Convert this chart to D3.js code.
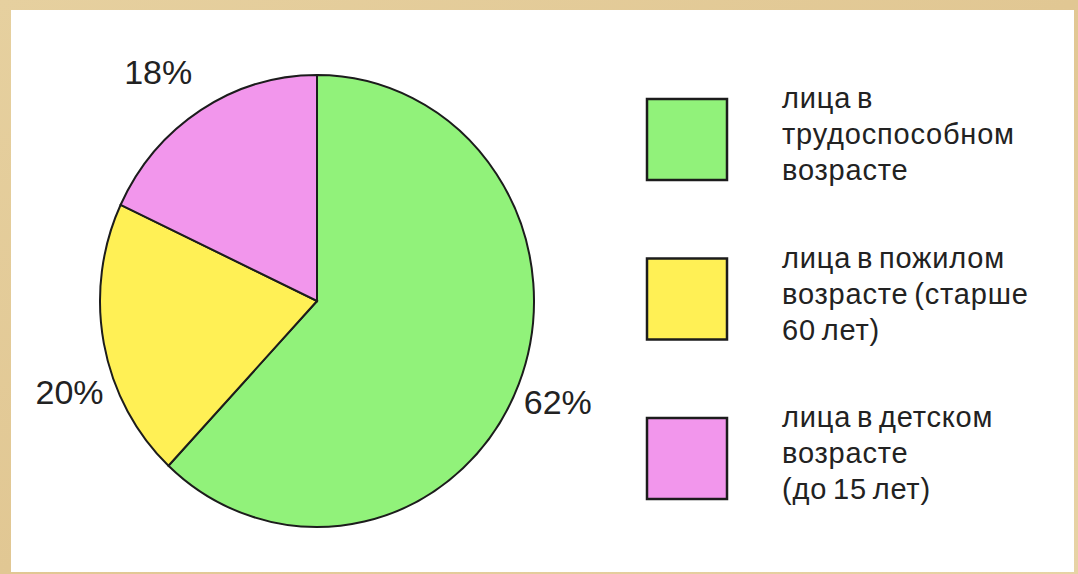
<!DOCTYPE html>
<html>
<head>
<meta charset="utf-8">
<script src="https://cdn.jsdelivr.net/npm/d3@7"></script>
<style>
  html, body { margin: 0; padding: 0; background: #e4cd9a; }
  svg { display: block; }
</style>
</head>
<body>
<svg id="chart" width="1078" height="574"></svg>
<script>
// data
const categories = ['лица в трудоспособном возрасте', 'лица в пожилом возрасте (старше 60 лет)', 'лица в детском возрасте (до 15 лет)'];
const shares = [62, 20, 18];
const legendLines = [
  ['лица в', 'трудоспособном', 'возрасте'],
  ['лица в пожилом', 'возрасте (старше', '60 лет)'],
  ['лица в детском', 'возрасте', '(до 15 лет)']
];
const colors = ['#91f27a', '#fff055', '#f296ec'];

const width = 1078, height = 574;
const svg = d3.select('#chart');

// parchment backdrop + white panel
const defs = svg.append('defs');
const grad = defs.append('linearGradient').attr('id', 'parch').attr('x1', 0).attr('y1', 0).attr('x2', 1).attr('y2', 1);
grad.append('stop').attr('offset', '0%').attr('stop-color', '#e6d09f');
grad.append('stop').attr('offset', '50%').attr('stop-color', '#e1c793');
grad.append('stop').attr('offset', '100%').attr('stop-color', '#e7d3a5');
svg.append('rect').attr('width', width).attr('height', height).attr('fill', 'url(#parch)');
svg.append('rect')
  .attr('x', 11).attr('y', 10)
  .attr('width', 1063).attr('height', 562)
  .attr('fill', '#ffffff');

// pie
const cx = 317, cy = 301, rx = 217, ry = 226;
const pie = d3.pie().value(d => d).sort(null);
const arcs = pie(shares);
const arc = d3.arc().innerRadius(0).outerRadius(rx);

const g = svg.append('g')
  .attr('transform', `translate(${cx},${cy}) scale(1,${ry / rx})`);

g.selectAll('path')
  .data(arcs)
  .join('path')
  .attr('d', arc)
  .attr('fill', (d, i) => colors[i])
  .attr('stroke', '#1c1c1c')
  .attr('stroke-width', 2)
  .attr('vector-effect', 'non-scaling-stroke');

// percentage labels, placed outside on the slice's mid angle
const labelArc = d3.arc().innerRadius(259).outerRadius(259);
const nudge = [[0, 1], [7, 40], [-20, -1]];
svg.append('g')
  .selectAll('text')
  .data(arcs)
  .join('text')
  .attr('x', (d, i) => cx + labelArc.centroid(d)[0] + nudge[i][0])
  .attr('y', (d, i) => cy + labelArc.centroid(d)[1] * ry / rx + nudge[i][1])
  .attr('dy', '0.36em')
  .attr('text-anchor', 'middle')
  .attr('font-family', 'Liberation Sans, Arial, sans-serif')
  .attr('font-size', 34)
  .attr('fill', '#222')
  .text(d => d.data + '%');

// legend
const legendY = d3.scalePoint().domain(d3.range(categories.length)).range([99, 418]);
const legend = svg.append('g')
  .selectAll('g')
  .data(categories)
  .join('g')
  .attr('transform', (d, i) => `translate(647,${legendY(i)})`);

legend.append('rect')
  .attr('width', 80).attr('height', 81)
  .attr('fill', (d, i) => colors[i])
  .attr('stroke', '#1c1c1c')
  .attr('stroke-width', 2.5);

legend.append('text')
  .attr('font-family', 'Liberation Sans, Arial, sans-serif')
  .attr('font-size', 29)
  .attr('letter-spacing', 0.8)
  .attr('word-spacing', -3)
  .attr('fill', '#222')
  .selectAll('tspan')
  .data((d, i) => legendLines[i])
  .join('tspan')
  .attr('x', 135)
  .attr('y', (d, j) => 9 + j * 36)
  .text(d => d);
</script>
</body>
</html>
